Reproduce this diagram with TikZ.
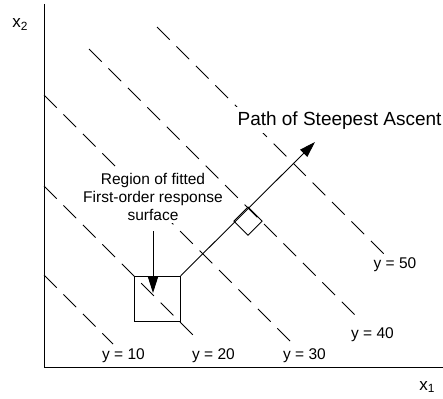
\documentclass[tikz,border=0pt]{standalone}
\usepackage{fontspec}
\setmainfont{Liberation Sans}
\usetikzlibrary{arrows.meta}
\tikzset{
  contour/.style={dash pattern=on 18pt off 9.5pt, line width=0.8pt},
  lbl/.style={inner sep=0pt, anchor=base, font=\fontsize{15.5}{18}\selectfont},
  arr/.style={-{Triangle[length=16pt, width=10pt]}, line width=0.9pt}
}

\begin{document}
\begin{tikzpicture}[x=1pt, y=-1pt, line width=0.9pt]
  \useasboundingbox (0,0) rectangle (443,398);
  % axes
  \coordinate (o) at (44,367);
  \draw (44,4) -- (o) -- (443,367);
  \node[lbl, anchor=base west, font=\fontsize{17}{20}\selectfont] (x2) at (12,28) {x\textsubscript{2}};
  \node[lbl, anchor=base west, font=\fontsize{17}{20}\selectfont] (x1) at (419,390) {x\textsubscript{1}};
  % contour lines
  \draw[contour] (44,275) -- (113,344);
  \draw[contour] (44,186) -- (193,335);
  \draw[contour] (44,95) -- (290,341);
  % region text
  \node[lbl, anchor=north, fill=white, inner xsep=1pt, inner ysep=2pt, align=center] (region) at (153,171) {Region of fitted\\First-order response\\surface};
  \draw[contour] (89,49) -- (355,315);
  \draw[contour] (157,27) -- (385,255);
  \node[lbl] (y10) at (123.5,359) {y = 10};
  \node[lbl] (y20) at (213.5,359) {y = 20};
  \node[lbl] (y30) at (304.5,359) {y = 30};
  \node[lbl] (y40) at (372.5,338) {y = 40};
  \node[lbl] (y50) at (395,268) {y = 50};
  % fitted region
  \node[draw, minimum size=45.5pt, inner sep=0pt] (box) at (157.5,299) {};
  \draw[arr] ([yshift=-8pt]region.south) -- ([xshift=-4.5pt, yshift=6pt]box.center);
  % steepest ascent
  \node[lbl, fill=white, inner xsep=2pt, inner ysep=4pt] (title) at (339.5,125) {\fontsize{19}{22}\selectfont Path of Steepest Ascent};
  \coordinate (ascent) at (315,142);
  \coordinate (cross) at (248,207);
  \draw[arr] (box.north east) -- (ascent);
  \draw (cross) -- ++(14.1,14.1) -- ++(-14.1,14.1) -- ++(-14.1,-14.1) -- cycle;
\end{tikzpicture}
\end{document}
